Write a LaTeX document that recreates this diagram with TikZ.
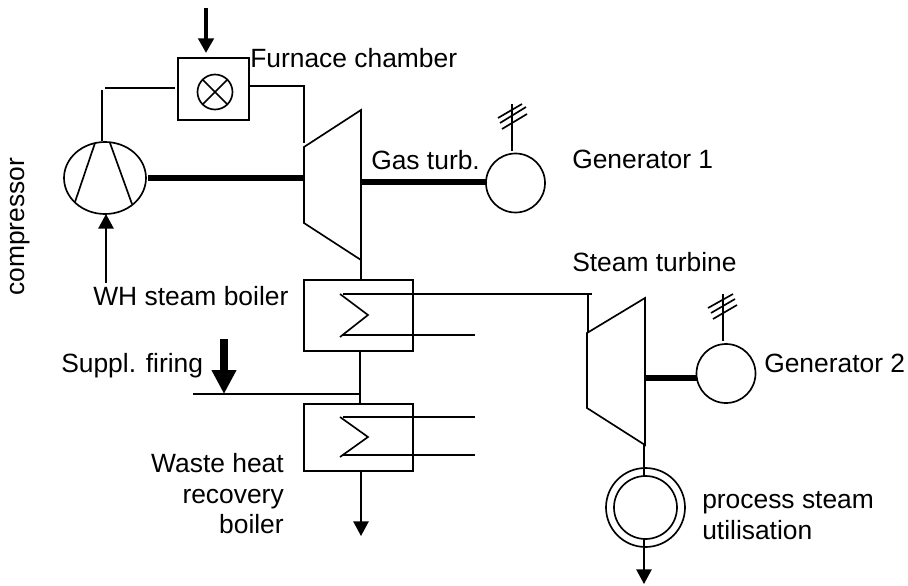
\documentclass[tikz,border=0pt]{standalone}
\usepackage{fontspec}
\setmainfont{Liberation Sans}
\usetikzlibrary{arrows.meta,shapes.geometric}
\tikzset{
  ln/.style={line width=1.25pt,black},
  shaft/.style={line width=4.4pt,black},
  eqbox/.style={draw,line width=1.25pt,rectangle,inner sep=0pt,outer sep=0pt},
  eqcirc/.style={draw,line width=1.25pt,circle,inner sep=0pt,outer sep=0pt},
  lab/.style={font=\fontsize{19.8}{24}\selectfont,inner sep=0pt,anchor=base west},
  arr/.style={ln,-{Triangle[length=11pt,width=11.5pt]}},
  bigarr/.style={line width=6pt,-{Triangle[length=18pt,width=17.5pt]}},
}
\begin{document}
\begin{tikzpicture}[x=0.75pt,y=-0.75pt]
\useasboundingbox (0,0) rectangle (908,586);
% equipment
\node[eqbox,minimum width=53.25pt,minimum height=46.5pt] (furn) at (213.2,89) {};
\node[eqcirc,minimum size=26.25pt] (flame) at (215,92) {};
\draw[ln] (flame.north west) -- (flame.south east) (flame.north east) -- (flame.south west);
\node[draw,ellipse,line width=1.25pt,minimum width=61.5pt,minimum height=54pt,inner sep=0pt,outer sep=0pt] (comp) at (105,178) {};
\coordinate (bl1a) at (95,143); \coordinate (bl1b) at (75,202);
\coordinate (bl2a) at (110,143); \coordinate (bl2b) at (132,204);
\draw[ln] (bl1a) -- (bl1b) (bl2a) -- (bl2b);
\coordinate (gt1) at (304,147); \coordinate (gt2) at (361,110);
\coordinate (gt3) at (361,260); \coordinate (gt4) at (304,223);
\draw[ln,line join=miter] (gt1) -- (gt2) -- (gt3) -- (gt4) -- cycle;
\node[eqcirc,minimum size=44.25pt] (gen1) at (515.5,183) {};
\node[eqbox,minimum width=81.75pt,minimum height=53.25pt] (wh1) at (358.5,315.5) {};
\node[eqbox,minimum width=81.75pt,minimum height=50.25pt] (wh2) at (358.5,437.5) {};
\coordinate (st1) at (587,333); \coordinate (st2) at (645,298);
\coordinate (st3) at (645,445); \coordinate (st4) at (587,408);
\draw[ln] (st1) -- (st2) -- (st3) -- (st4) -- cycle;
\node[eqcirc,minimum size=44.25pt] (gen2) at (726,373.5) {};
\node[eqcirc,minimum size=59.25pt] (proc) at (645.5,507.5) {};
\node[eqcirc,minimum size=47.25pt] (procin) at (645.5,507.5) {};
% fuel arrow
\coordinate (fuel) at (206,8); \coordinate (fuelt) at (206,53);
\draw[line width=3pt,-{Triangle[length=11pt,width=11.5pt]}] (fuel) -- (fuelt);
% air paths
\coordinate (c1) at (102,141); \coordinate (c2) at (102,90);
\coordinate (c3) at (105,88); \coordinate (c4) at (175,88);
\draw[ln] (c1) -- (c2) (c3) -- (c4);
\coordinate (f1) at (249,86); \coordinate (f2) at (304,86); \coordinate (f3) at (304,143);
\draw[ln] (f1) -- (f2) -- (f3);
\coordinate (a1) at (106,283); \coordinate (a2) at (106,214);
\draw[arr] (a1) -- (a2);
% shafts
\coordinate (s1) at (148,178); \coordinate (s2) at (303,178);
\draw[shaft] (s1) -- (s2);
\coordinate (s3) at (361,182); \coordinate (s4) at (486,182);
\draw[shaft] (s3) -- (s4);
\coordinate (s5) at (645,378); \coordinate (s6) at (697,378);
\draw[shaft] (s5) -- (s6);
% generator 1 wires
\coordinate (g1a) at (512,151); \coordinate (g1b) at (512,104);
\draw[ln] (g1a) -- (g1b);
\draw[ln] (498,118) -- (522,104) (500,123) -- (526,107) (502,129) -- (527,114);
% generator 2 wires
\coordinate (g2a) at (723,341); \coordinate (g2b) at (723,294);
\draw[ln] (g2a) -- (g2b);
\draw[ln] (708,308) -- (733,294) (711,313) -- (735,299) (713,319) -- (737,305);
% gas path
\coordinate (p1) at (361,260); \coordinate (p2) at (361,280);
\draw[ln] (p1) -- (p2);
\coordinate (p3) at (360,351); \coordinate (p4) at (360,404);
\draw[ln] (p3) -- (p4);
\coordinate (p5) at (361,471); \coordinate (p6) at (361,536);
\draw[arr] (p5) -- (p6);
% boiler 1 coil
\coordinate (k1) at (340,294); \coordinate (k2) at (368,315); \coordinate (k3) at (340,337);
\draw[ln] (k1) -- (k2) -- (k3);
\coordinate (k1e) at (343,294); \coordinate (k4) at (588,294); \coordinate (k4x) at (592,294);
\draw[ln] (k1e) -- (k4x);
\coordinate (k3e) at (343,335); \coordinate (k5) at (475,335);
\draw[ln] (k3e) -- (k5);
\coordinate (k6) at (588,333);
\draw[ln] (k4) -- (k6);
% boiler 2 coil
\coordinate (m1) at (340,417); \coordinate (m2) at (368,437); \coordinate (m3) at (340,457);
\draw[ln] (m1) -- (m2) -- (m3);
\coordinate (m1e) at (343,417); \coordinate (m4) at (475,417);
\coordinate (m3e) at (343,455); \coordinate (m5) at (475,455);
\draw[ln] (m1e) -- (m4) (m3e) -- (m5);
% supplementary firing
\coordinate (sf1) at (193,394); \coordinate (sf2) at (359,394);
\draw[ln] (sf1) -- (sf2);
\coordinate (sf3) at (224,339); \coordinate (sf4) at (224,394);
\draw[bigarr] (sf3) -- (sf4);
% process steam
\coordinate (t1) at (644,445); \coordinate (t2) at (644,477);
\draw[ln] (t1) -- (t2);
\coordinate (t3) at (644,538); \coordinate (t4) at (644,584);
\draw[arr] (t3) -- (t4);
% labels
\node[lab] (lf) at (250,67) {Furnace chamber};
\node[lab] (lg) at (371,169) {Gas turb.};
\node[lab] (lg1) at (572,168) {Generator 1};
\node[lab,rotate=90] (lc) at (25,296) {compressor};
\node[lab] (ls) at (572,271) {Steam turbine};
\node[lab] (lw) at (93,305) {WH steam boiler};
\node[lab] (lsf) at (61,372) {Suppl. firing};
\node[lab] (lg2) at (764,372) {Generator 2};
\node[lab,anchor=base east] (lw1) at (284,472) {Waste heat};
\node[lab,anchor=base east] (lw2) at (284,503) {recovery};
\node[lab,anchor=base east] (lw3) at (284,533) {boiler};
\node[lab] (lp1) at (702,508) {process steam};
\node[lab] (lp2) at (702,539) {utilisation};
\end{tikzpicture}
\end{document}
